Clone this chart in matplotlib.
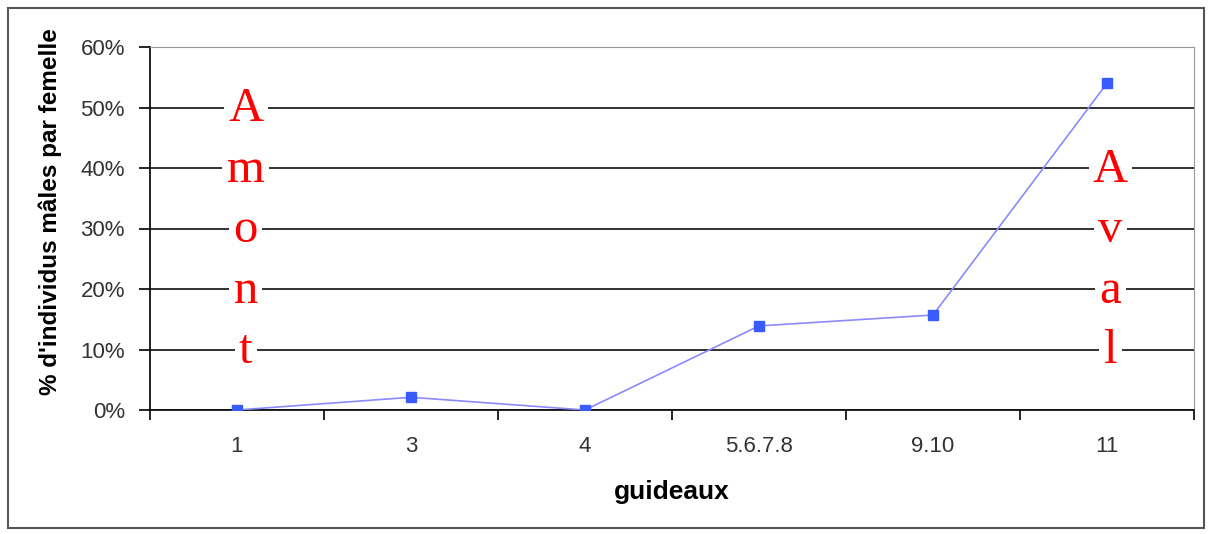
import matplotlib.pyplot as plt
import numpy as np
from matplotlib.patches import Rectangle

guideaux = ['1', '3', '4', '5.6.7.8', '9.10', '11']
pct_males = [0.0, 2.1, 0.0, 13.9, 15.7, 54.0]
amont = ['A', 'm', 'o', 'n', 't']
amont_y = [50, 40, 30, 20, 10]
aval = ['A', 'v', 'a', 'l']
aval_y = [40, 30, 20, 10]

plt.rcParams['font.family'] = ['Liberation Sans', 'DejaVu Sans']

fig = plt.figure(figsize=(12.1, 5.34), dpi=100)
ax = fig.add_axes([150 / 1210, 1 - 410 / 534, 1044 / 1210, 363 / 534])

x = np.arange(len(guideaux))
ax.set_axisbelow(True)
ax.yaxis.grid(True, color='#222222', linewidth=1.3)
ax.plot(x, pct_males, color='#8a8aff', linewidth=1.2, zorder=3)
ax.plot(x, pct_males, linestyle='none', marker='s', markersize=7,
        color='#3a5cff', zorder=4)

# red labels upstream / downstream
for ch, yy in zip(amont, amont_y):
    ax.text(0.05, yy - 0.3, ch, color='red', fontsize=35, family='Liberation Serif',
            ha='center', va='center', zorder=2,
            bbox=dict(facecolor='white', edgecolor='none', pad=3))
for ch, yy in zip(aval, aval_y):
    ax.text(5.02, yy - 0.3, ch, color='red', fontsize=35, family='Liberation Serif',
            ha='center', va='center', zorder=2,
            bbox=dict(facecolor='white', edgecolor='none', pad=3))

ax.set_xlim(-0.5, len(guideaux) - 0.5)
ax.set_ylim(0, 60)
ax.set_yticks(np.arange(0, 61, 10))
ax.set_yticklabels([f'{v}%' for v in range(0, 61, 10)], fontsize=16, color='#333333')
ax.set_xticks(x)
ax.set_xticklabels(guideaux, fontsize=16, color='#333333')
ax.set_xticks(np.arange(-0.5, len(guideaux), 1), minor=True)
ax.tick_params(axis='x', which='major', length=0, pad=19)
ax.tick_params(axis='x', which='minor', length=7, width=1.2, direction='out')
ax.tick_params(axis='y', length=8, width=1.2, pad=10)

for side in ['top', 'right']:
    ax.spines[side].set_color('#999999')
for side in ['left', 'bottom']:
    ax.spines[side].set_color('#111111')
    ax.spines[side].set_linewidth(1.3)

ax.set_ylabel("% d'individus mâles par femelle", fontsize=17.5, fontweight='bold')
ax.yaxis.set_label_coords(-0.084, 0.547)
ax.set_xlabel('guideaux', fontsize=19, fontweight='bold', labelpad=16)

fig.patches.append(Rectangle((8 / 1210, 6 / 534), 1196 / 1210, 520 / 534,
                             transform=fig.transFigure, fill=False,
                             edgecolor='#555555', linewidth=1.5))

fig.savefig('out.png', dpi=100)
